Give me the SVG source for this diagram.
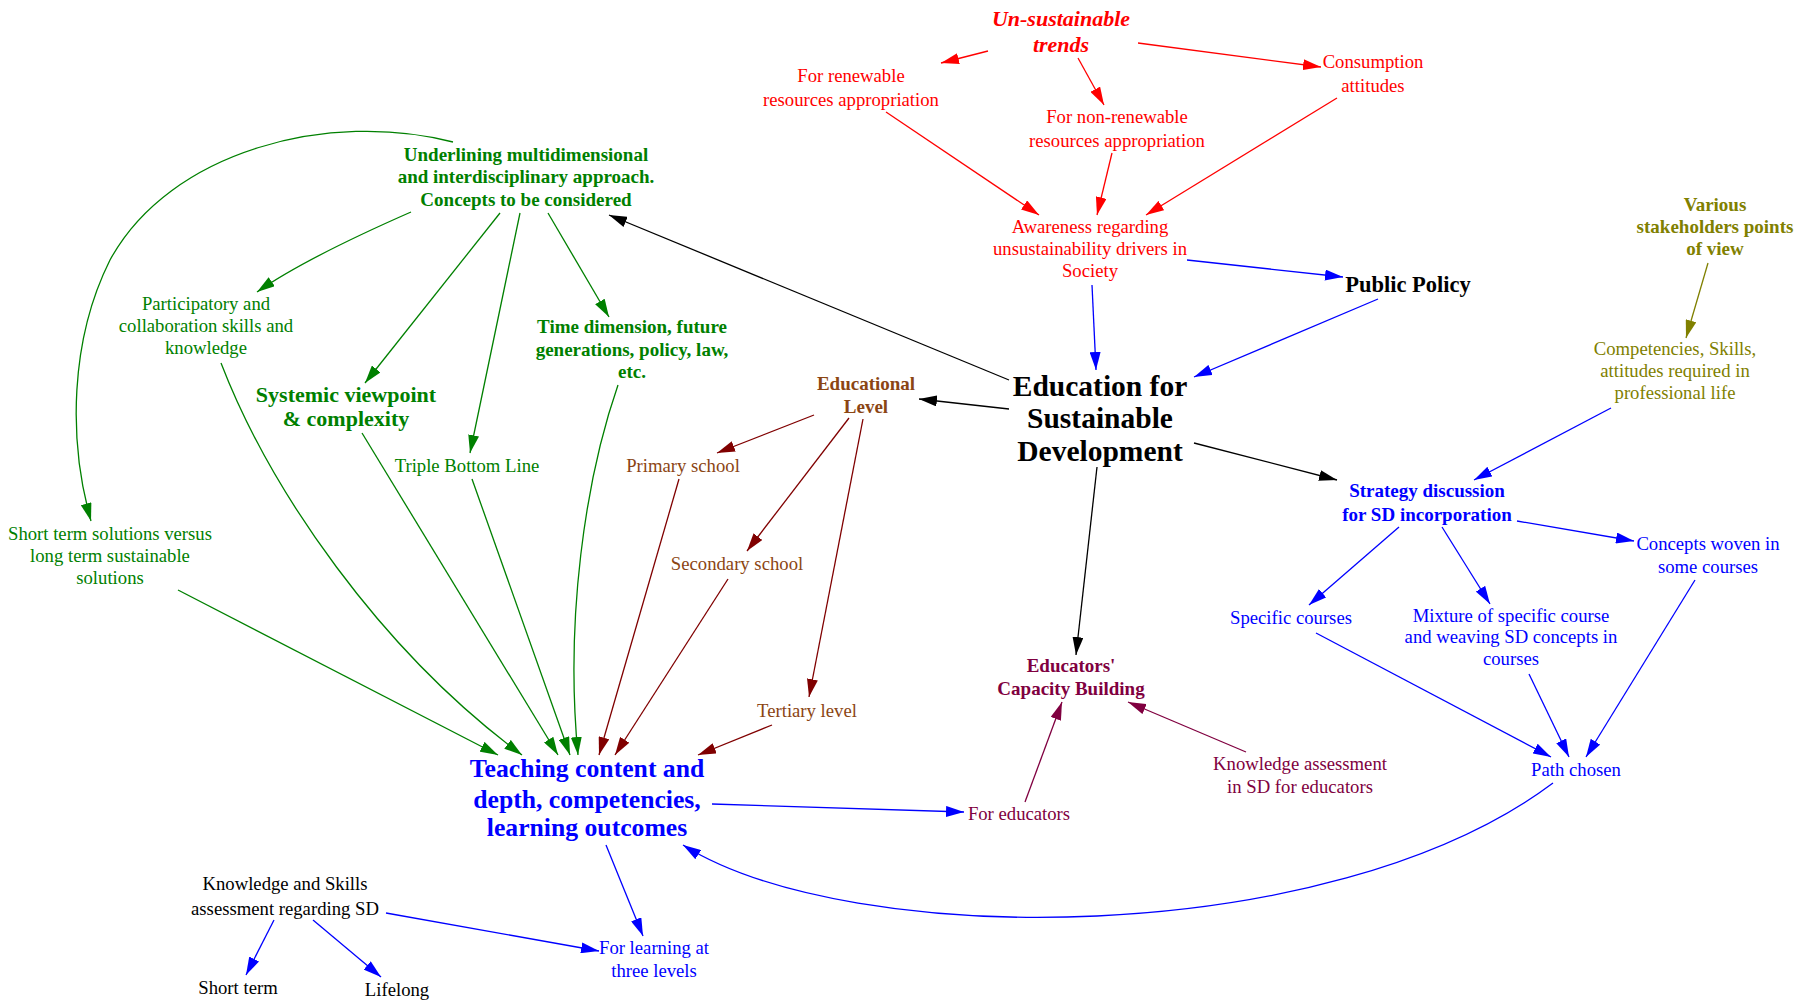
<svg xmlns="http://www.w3.org/2000/svg" width="1810" height="1002" viewBox="0 0 1810 1002">
<style>
text{font-family:"Liberation Serif","Times New Roman",serif;text-anchor:middle;font-size:18.7px}
.b{font-weight:bold;font-size:19px}
.red{fill:#FF0000}.grn{fill:#008000}.blu{fill:#0000FF}.blk{fill:#000000}
.brn{fill:#8B4513}.pur{fill:#800040}.olv{fill:#808000}
#edges path{fill:none;stroke-width:1.3}
.er{stroke:#FF0000;marker-end:url(#mr)}
.eg{stroke:#008000;marker-end:url(#mg)}
.eb{stroke:#0000FF;marker-end:url(#mb)}
.ek{stroke:#000000;marker-end:url(#mk)}
.ed{stroke:#800000;marker-end:url(#md)}
.ep{stroke:#800040;marker-end:url(#mp)}
.eo{stroke:#808000;marker-end:url(#mo)}
</style>
<defs>
<marker id="mr" viewBox="0 0 18 11" refX="18" refY="5.5" markerWidth="18" markerHeight="11" markerUnits="userSpaceOnUse" orient="auto"><path d="M0,0 L18,5.5 L0,11 z" fill="#FF0000"/></marker>
<marker id="mg" viewBox="0 0 18 11" refX="18" refY="5.5" markerWidth="18" markerHeight="11" markerUnits="userSpaceOnUse" orient="auto"><path d="M0,0 L18,5.5 L0,11 z" fill="#008000"/></marker>
<marker id="mb" viewBox="0 0 18 11" refX="18" refY="5.5" markerWidth="18" markerHeight="11" markerUnits="userSpaceOnUse" orient="auto"><path d="M0,0 L18,5.5 L0,11 z" fill="#0000FF"/></marker>
<marker id="mk" viewBox="0 0 18 11" refX="18" refY="5.5" markerWidth="18" markerHeight="11" markerUnits="userSpaceOnUse" orient="auto"><path d="M0,0 L18,5.5 L0,11 z" fill="#000000"/></marker>
<marker id="md" viewBox="0 0 18 11" refX="18" refY="5.5" markerWidth="18" markerHeight="11" markerUnits="userSpaceOnUse" orient="auto"><path d="M0,0 L18,5.5 L0,11 z" fill="#800000"/></marker>
<marker id="mp" viewBox="0 0 18 11" refX="18" refY="5.5" markerWidth="18" markerHeight="11" markerUnits="userSpaceOnUse" orient="auto"><path d="M0,0 L18,5.5 L0,11 z" fill="#800040"/></marker>
<marker id="mo" viewBox="0 0 18 11" refX="18" refY="5.5" markerWidth="18" markerHeight="11" markerUnits="userSpaceOnUse" orient="auto"><path d="M0,0 L18,5.5 L0,11 z" fill="#808000"/></marker>
</defs>
<rect width="1810" height="1002" fill="#FFFFFF"/>
<g id="edges">
<path class="er" d="M988,51 L941,63"/>
<path class="er" d="M1078,58 L1104,105"/>
<path class="er" d="M1138,43 L1321,67"/>
<path class="er" d="M886,112 L1039,215"/>
<path class="er" d="M1112,153 L1097,215"/>
<path class="er" d="M1337,98 L1146,215"/>
<path class="eb" d="M1187,260 L1343,277"/>
<path class="eb" d="M1092,285 L1096,370"/>
<path class="eb" d="M1378,299 L1194,377"/>
<path class="eb" d="M1611,408 L1474,480"/>
<path class="eb" d="M1517,521 L1634,541"/>
<path class="eb" d="M1399,527 L1309,605"/>
<path class="eb" d="M1442,527 L1490,604"/>
<path class="eb" d="M1316,633 L1551,757"/>
<path class="eb" d="M1529,674 L1569,757"/>
<path class="eb" d="M1695,580 L1586,757"/>
<path class="eb" d="M1553,783 C1330,950 850,950 683,845"/>
<path class="eb" d="M712,804 L964,812"/>
<path class="eb" d="M606,845 L643,936"/>
<path class="eb" d="M386,913 L599,951"/>
<path class="eb" d="M274,920 L246,975"/>
<path class="eb" d="M313,920 L381,977"/>
<path class="ek" d="M1009,380 L609,215"/>
<path class="ek" d="M1009,409 L919,399"/>
<path class="ek" d="M1194,443 L1337,480"/>
<path class="ek" d="M1097,467 L1076,655"/>
<path class="eo" d="M1708,263 L1686,338"/>
<path class="eg" d="M411,212 C370,230 300,262 257,292"/>
<path class="eg" d="M500,213 L365,383"/>
<path class="eg" d="M520,213 L470,453"/>
<path class="eg" d="M548,213 L609,317"/>
<path class="eg" d="M453,142 C330,110 170,150 110,260 C70,340 68,440 91,521"/>
<path class="eg" d="M178,590 L498,755"/>
<path class="eg" d="M221,363 C270,490 380,650 522,755"/>
<path class="eg" d="M362,433 L558,755"/>
<path class="eg" d="M472,479 L570,755"/>
<path class="eg" d="M618,385 C585,480 565,620 578,755"/>
<path class="ed" d="M814,415 L717,453"/>
<path class="ed" d="M849,418 L747,551"/>
<path class="ed" d="M863,419 L809,697"/>
<path class="ed" d="M679,479 L599,755"/>
<path class="ed" d="M728,579 L615,755"/>
<path class="ed" d="M772,725 L698,755"/>
<path class="ep" d="M1025,802 L1062,702"/>
<path class="ep" d="M1246,752 L1128,702"/>
</g>
<g id="n_unsust" class="red" style="font-weight:bold;font-style:italic">
<text x="1061" y="26" style="font-size:22px">Un-sustainable</text>
<text x="1061" y="52" style="font-size:22px">trends</text>
</g>
<g id="n_renew" class="red"><text x="851" y="82">For renewable</text><text x="851" y="106">resources appropriation</text></g>
<g id="n_nonrenew" class="red"><text x="1117" y="123">For non-renewable</text><text x="1117" y="147">resources appropriation</text></g>
<g id="n_consump" class="red"><text x="1373" y="68">Consumption</text><text x="1373" y="92">attitudes</text></g>
<g id="n_aware" class="red"><text x="1090" y="233">Awareness regarding</text><text x="1090" y="255">unsustainability drivers in</text><text x="1090" y="277">Society</text></g>
<g id="n_pp" class="blk"><text x="1408" y="292" style="font-weight:bold;font-size:22.5px">Public Policy</text></g>
<g id="n_efsd" class="blk" style="font-weight:bold">
<text x="1100" y="396" style="font-size:29.5px">Education for</text>
<text x="1100" y="428" style="font-size:29.5px">Sustainable</text>
<text x="1100" y="461" style="font-size:29.5px">Development</text>
</g>
<g id="n_edlevel" class="brn"><text class="b" x="866" y="390">Educational</text><text class="b" x="866" y="413">Level</text></g>
<g id="n_primary" class="brn"><text x="683" y="472">Primary school</text></g>
<g id="n_secondary" class="brn"><text x="737" y="570">Secondary school</text></g>
<g id="n_tertiary" class="brn"><text x="807" y="717">Tertiary level</text></g>
<g id="n_underlining" class="grn"><text class="b" x="526" y="161">Underlining multidimensional</text><text class="b" x="526" y="183">and interdisciplinary approach.</text><text class="b" x="526" y="206">Concepts to be considered</text></g>
<g id="n_particip" class="grn"><text x="206" y="310">Participatory and</text><text x="206" y="332">collaboration skills and</text><text x="206" y="354">knowledge</text></g>
<g id="n_systemic" class="grn" style="font-weight:bold"><text x="346" y="402" style="font-size:22px">Systemic viewpoint</text><text x="346" y="426" style="font-size:22px">&amp; complexity</text></g>
<g id="n_triple" class="grn"><text x="467" y="472">Triple Bottom Line</text></g>
<g id="n_time" class="grn"><text class="b" x="632" y="333">Time dimension, future</text><text class="b" x="632" y="356">generations, policy, law,</text><text class="b" x="632" y="378">etc.</text></g>
<g id="n_shortsol" class="grn"><text x="110" y="540">Short term solutions versus</text><text x="110" y="562">long term sustainable</text><text x="110" y="584">solutions</text></g>
<g id="n_teaching" class="blu" style="font-weight:bold">
<text x="587" y="777" style="font-size:25.7px">Teaching content and</text>
<text x="587" y="808" style="font-size:25.7px">depth, competencies,</text>
<text x="587" y="836" style="font-size:25.7px">learning outcomes</text>
</g>
<g id="n_ks" class="blk"><text x="285" y="890">Knowledge and Skills</text><text x="285" y="915">assessment regarding SD</text></g>
<g id="n_shortterm" class="blk"><text x="238" y="994">Short term</text></g>
<g id="n_lifelong" class="blk"><text x="397" y="996">Lifelong</text></g>
<g id="n_forlearning" class="blu"><text x="654" y="954">For learning at</text><text x="654" y="977">three levels</text></g>
<g id="n_various" class="olv"><text class="b" x="1715" y="211">Various</text><text class="b" x="1715" y="233">stakeholders points</text><text class="b" x="1715" y="255">of view</text></g>
<g id="n_compet" class="olv"><text x="1675" y="355">Competencies, Skills,</text><text x="1675" y="377">attitudes required in</text><text x="1675" y="399">professional life</text></g>
<g id="n_strategy" class="blu"><text class="b" x="1427" y="497">Strategy discussion</text><text class="b" x="1427" y="521">for SD incorporation</text></g>
<g id="n_woven" class="blu"><text x="1708" y="550">Concepts woven in</text><text x="1708" y="573">some courses</text></g>
<g id="n_specific" class="blu"><text x="1291" y="624">Specific courses</text></g>
<g id="n_mixture" class="blu"><text x="1511" y="622">Mixture of specific course</text><text x="1511" y="643">and weaving SD concepts in</text><text x="1511" y="665">courses</text></g>
<g id="n_path" class="blu"><text x="1576" y="776">Path chosen</text></g>
<g id="n_educators" class="pur"><text class="b" x="1071" y="672">Educators'</text><text class="b" x="1071" y="695">Capacity Building</text></g>
<g id="n_foredu" class="pur"><text x="1019" y="820">For educators</text></g>
<g id="n_kassess" class="pur"><text x="1300" y="770">Knowledge assessment</text><text x="1300" y="793">in SD for educators</text></g>
</svg>
